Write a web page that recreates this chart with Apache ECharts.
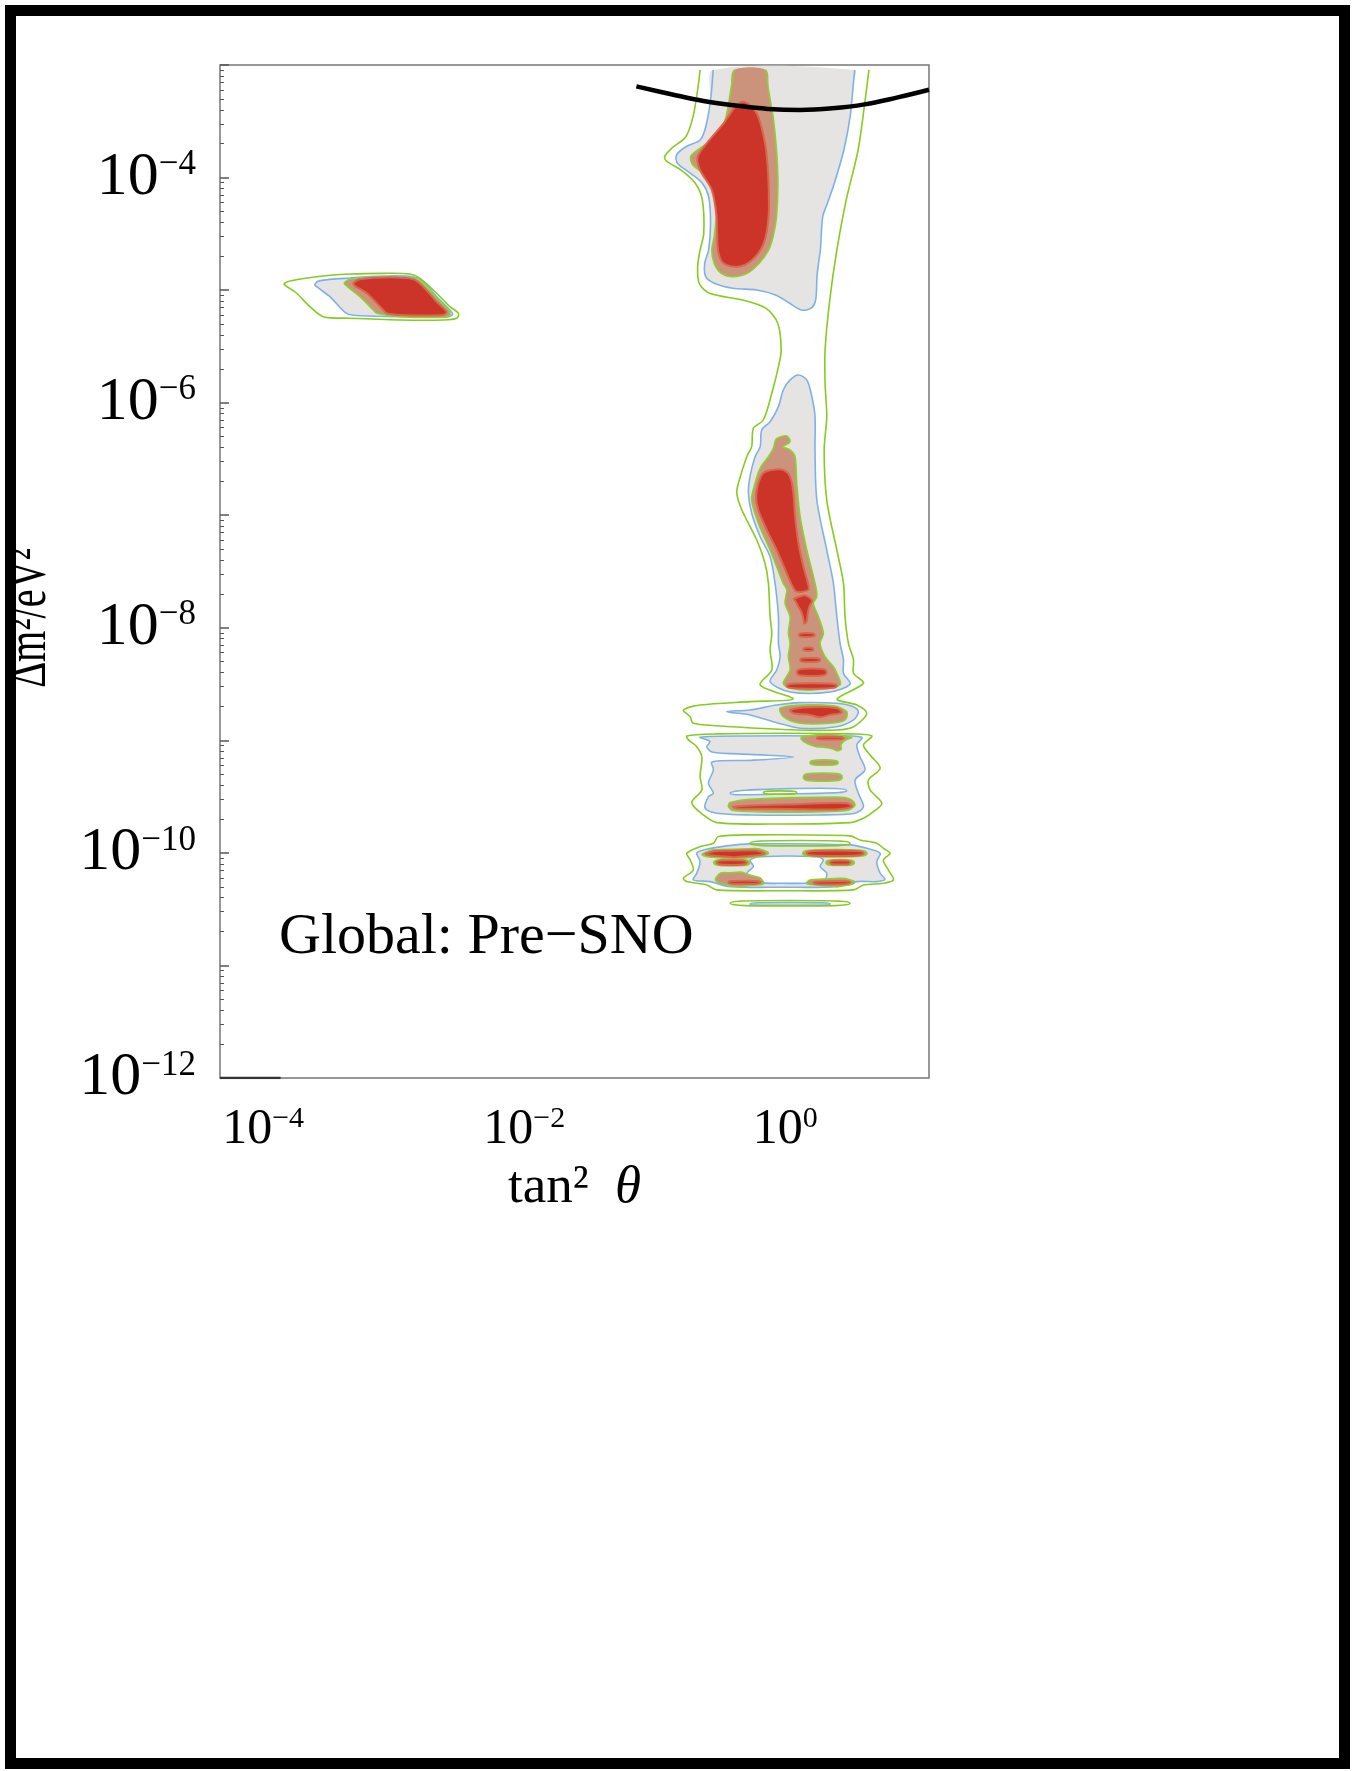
<!DOCTYPE html>
<html><head><meta charset="utf-8">
<script src="https://cdn.jsdelivr.net/npm/echarts@6/dist/echarts.min.js"></script>
<style>html,body{margin:0;padding:0;background:#fff}#chart{width:1355px;height:1771px}</style>
</head><body><div id="chart"></div>
<script>
// ---- axes (values are log10 of tan^2(theta) and log10 of dm^2/eV^2) ----
const xRange = [-4.33, 1.1];
const yRange = [-12, -3];
const xTickValues = [-4, -2, 0];
const xTickExponents = ['\u22124', '\u22122', '0'];
const yTickValues = [-12, -10, -8, -6, -4];
const yTickExponents = ['\u221212', '\u221210', '\u22128', '\u22126', '\u22124'];
const yDecades = [-12, -11, -10, -9, -8, -7, -6, -5, -4, -3];
const minorFactors = [2, 3, 4, 5, 6, 7, 8, 9];

// ---- contour regions, points as [log10 tan^2, log10 dm^2] ----
// light-gray regions bounded by the blue contour
const grayRegions = [
  [[-0.553,-3.044],[-0.573,-3.311],[-0.610,-3.548],[-0.653,-3.666],[-0.762,-3.726],[-0.834,-3.800],[-0.827,-3.873],[-0.726,-3.962],[-0.636,-4.051],[-0.588,-4.170],[-0.573,-4.406],[-0.588,-4.644],[-0.618,-4.762],[-0.610,-4.881],[-0.545,-4.939],[-0.401,-4.984],[-0.220,-4.999],[-0.075,-5.043],[0.033,-5.117],[0.123,-5.177],[0.195,-5.163],[0.232,-5.088],[0.242,-4.881],[0.257,-4.732],[0.268,-4.644],[0.286,-4.348],[0.322,-4.229],[0.375,-4.051],[0.448,-3.755],[0.496,-3.459],[0.521,-3.163],[0.531,-3.044]],
  [[-3.603,-4.946],[-3.564,-4.916],[-3.334,-4.892],[-3.079,-4.875],[-2.849,-4.881],[-2.773,-4.925],[-2.671,-5.058],[-2.569,-5.177],[-2.548,-5.215],[-2.582,-5.236],[-2.952,-5.236],[-3.309,-5.224],[-3.373,-5.197],[-3.488,-5.058],[-3.590,-4.970]],
  [[0.100,-5.754],[0.036,-5.798],[-0.016,-5.887],[-0.053,-6.035],[-0.117,-6.169],[-0.181,-6.243],[-0.193,-6.391],[-0.232,-6.480],[-0.271,-6.658],[-0.283,-6.805],[-0.258,-6.983],[-0.193,-7.191],[-0.117,-7.368],[-0.079,-7.605],[-0.053,-7.901],[-0.053,-8.138],[-0.040,-8.257],[-0.066,-8.375],[-0.117,-8.479],[0.036,-8.571],[0.343,-8.571],[0.496,-8.500],[0.445,-8.404],[0.445,-8.286],[0.419,-8.138],[0.394,-7.901],[0.368,-7.605],[0.317,-7.309],[0.241,-6.865],[0.227,-6.420],[0.227,-6.124],[0.203,-5.947],[0.164,-5.798]],
  [[-0.449,-8.745],[-0.271,-8.730],[-0.066,-8.686],[0.113,-8.665],[0.394,-8.671],[0.522,-8.701],[0.559,-8.745],[0.522,-8.819],[0.394,-8.879],[0.113,-8.893],[-0.066,-8.843],[-0.271,-8.775]],
  [[-0.653,-8.972],[-0.271,-8.961],[0.241,-8.961],[0.586,-8.972],[0.547,-9.041],[0.571,-9.145],[0.610,-9.263],[0.534,-9.352],[0.559,-9.470],[0.598,-9.589],[0.534,-9.648],[0.241,-9.663],[-0.271,-9.663],[-0.525,-9.648],[-0.615,-9.603],[-0.589,-9.500],[-0.551,-9.470],[-0.589,-9.381],[-0.551,-9.263],[-0.562,-9.192],[-0.271,-9.178],[0.061,-9.147],[-0.271,-9.125],[-0.562,-9.103],[-0.602,-9.056],[-0.577,-9.011]],
  [[-0.449,-9.938],[-0.271,-9.920],[0.496,-9.929],[0.623,-9.959],[0.726,-10.003],[0.700,-10.078],[0.726,-10.181],[0.763,-10.234],[0.700,-10.255],[0.547,-10.255],[0.394,-10.300],[-0.016,-10.305],[-0.423,-10.300],[-0.577,-10.255],[-0.705,-10.240],[-0.679,-10.181],[-0.653,-10.078],[-0.679,-10.003],[-0.628,-9.974]],
  [[-0.271,-10.453],[0.036,-10.441],[0.343,-10.453],[0.036,-10.465]]
];
// white holes inside gray regions (blue edge)
const holeRegions = [
  [[-0.423,-9.470],[0.036,-9.429],[0.470,-9.447],[0.036,-9.476]],
  [[-0.271,-10.063],[-0.193,-10.034],[0.241,-10.034],[0.291,-10.063],[0.266,-10.122],[0.317,-10.181],[0.291,-10.255],[-0.016,-10.270],[-0.271,-10.255],[-0.296,-10.181],[-0.245,-10.122]]
];
// tan regions bounded by the inner green contour
const tanRegions = [
  [[-0.393,-3.044],[-0.418,-3.222],[-0.454,-3.459],[-0.508,-3.607],[-0.599,-3.696],[-0.689,-3.770],[-0.726,-3.815],[-0.708,-3.888],[-0.599,-3.992],[-0.545,-4.111],[-0.527,-4.288],[-0.545,-4.525],[-0.563,-4.644],[-0.545,-4.762],[-0.490,-4.851],[-0.401,-4.881],[-0.292,-4.851],[-0.201,-4.762],[-0.129,-4.644],[-0.094,-4.525],[-0.068,-4.348],[-0.057,-4.051],[-0.068,-3.755],[-0.094,-3.459],[-0.129,-3.222],[-0.148,-3.044]],
  [[-3.379,-4.939],[-3.334,-4.904],[-3.079,-4.886],[-2.849,-4.895],[-2.785,-4.934],[-2.684,-5.058],[-2.582,-5.177],[-2.569,-5.221],[-2.606,-5.241],[-2.952,-5.236],[-3.129,-5.206],[-3.156,-5.177],[-3.258,-5.058],[-3.360,-4.963]],
  [[-0.066,-6.317],[0.011,-6.296],[0.036,-6.347],[-0.016,-6.391],[0.036,-6.420],[0.074,-6.480],[0.087,-6.716],[0.113,-7.013],[0.164,-7.309],[0.227,-7.605],[0.241,-7.724],[0.214,-7.783],[0.253,-7.901],[0.291,-8.049],[0.266,-8.138],[0.304,-8.257],[0.368,-8.346],[0.394,-8.404],[0.419,-8.508],[0.214,-8.553],[0.036,-8.538],[-0.016,-8.493],[0.036,-8.375],[0.023,-8.257],[0.036,-8.138],[0.023,-8.049],[0.036,-7.901],[-0.002,-7.783],[0.011,-7.664],[-0.016,-7.605],[-0.117,-7.309],[-0.207,-7.071],[-0.258,-6.865],[-0.232,-6.716],[-0.193,-6.583],[-0.130,-6.480],[-0.092,-6.405],[-0.079,-6.347]],
  [[-0.040,-8.715],[0.113,-8.686],[0.368,-8.694],[0.470,-8.745],[0.457,-8.819],[0.343,-8.848],[0.113,-8.848],[-0.016,-8.789]],
  [[0.138,-8.967],[0.496,-8.972],[0.432,-9.026],[0.419,-9.085],[0.343,-9.070],[0.164,-9.026]],
  [[0.189,-9.198],[0.297,-9.174],[0.404,-9.198],[0.297,-9.222]],
  [[0.138,-9.327],[0.286,-9.291],[0.435,-9.327],[0.286,-9.363]],
  [[-0.423,-9.553],[-0.271,-9.523],[0.394,-9.505],[0.496,-9.523],[0.534,-9.574],[0.470,-9.624],[-0.016,-9.639],[-0.398,-9.624],[-0.436,-9.589]],
  [[-0.628,-10.003],[-0.398,-9.968],[-0.142,-9.989],[-0.245,-10.039],[-0.551,-10.039]],
  [[-0.549,-10.086],[-0.411,-10.057],[-0.272,-10.086],[-0.411,-10.115]],
  [[-0.525,-10.211],[-0.398,-10.175],[-0.271,-10.196],[-0.169,-10.255],[-0.219,-10.285],[-0.475,-10.276]],
  [[0.132,-10.003],[0.381,-9.970],[0.626,-10.003],[0.381,-10.036]],
  [[0.310,-10.086],[0.419,-10.060],[0.528,-10.086],[0.419,-10.112]],
  [[0.164,-10.262],[0.343,-10.230],[0.522,-10.250],[0.488,-10.285],[0.310,-10.290]]
];
// red best-fit regions
const redRegions = [
  [[-0.327,-3.326],[-0.274,-3.355],[-0.220,-3.429],[-0.184,-3.548],[-0.148,-3.755],[-0.129,-4.051],[-0.129,-4.348],[-0.166,-4.584],[-0.255,-4.732],[-0.364,-4.792],[-0.473,-4.762],[-0.516,-4.644],[-0.527,-4.348],[-0.563,-4.111],[-0.653,-3.933],[-0.672,-3.815],[-0.581,-3.666],[-0.473,-3.518],[-0.382,-3.370]],
  [[-3.309,-4.939],[-3.258,-4.904],[-3.028,-4.886],[-2.849,-4.904],[-2.773,-4.970],[-2.671,-5.103],[-2.594,-5.192],[-2.620,-5.221],[-2.952,-5.221],[-3.053,-5.206],[-3.079,-5.177],[-3.206,-5.028],[-3.296,-4.963]],
  [[-0.169,-6.625],[-0.104,-6.598],[-0.016,-6.598],[0.036,-6.657],[0.061,-6.805],[0.074,-7.013],[0.100,-7.249],[0.138,-7.457],[0.176,-7.620],[0.176,-7.664],[0.087,-7.679],[0.050,-7.620],[0.011,-7.516],[-0.066,-7.309],[-0.142,-7.131],[-0.207,-6.954],[-0.224,-6.835],[-0.207,-6.716]],
  [[0.074,-7.738],[0.190,-7.738],[0.176,-7.842],[0.151,-7.960],[0.126,-7.871],[0.087,-7.783]],
  [[0.103,-8.064],[0.164,-8.046],[0.225,-8.064],[0.164,-8.082]],
  [[0.137,-8.191],[0.176,-8.176],[0.214,-8.191],[0.176,-8.206]],
  [[0.113,-8.286],[0.190,-8.268],[0.267,-8.286],[0.190,-8.304]],
  [[0.088,-8.395],[0.203,-8.362],[0.317,-8.395],[0.203,-8.428]],
  [[0.011,-8.517],[0.203,-8.493],[0.394,-8.517],[0.203,-8.541]],
  [[0.036,-8.730],[0.190,-8.706],[0.394,-8.715],[0.432,-8.754],[0.343,-8.774],[0.266,-8.795],[0.190,-8.774],[0.061,-8.759]],
  [[0.241,-8.981],[0.343,-8.969],[0.445,-8.981],[0.343,-8.993]],
  [[-0.398,-9.589],[0.036,-9.569],[0.470,-9.559],[0.509,-9.589],[0.381,-9.614],[0.036,-9.609],[-0.378,-9.605]],
  [[-0.602,-10.003],[-0.398,-9.980],[-0.169,-9.998],[-0.271,-10.027],[-0.525,-10.027]],
  [[-0.525,-10.086],[-0.411,-10.065],[-0.296,-10.086],[-0.411,-10.107]],
  [[-0.436,-10.262],[-0.315,-10.247],[-0.193,-10.262],[-0.315,-10.277]],
  [[0.164,-10.003],[0.381,-9.979],[0.598,-10.003],[0.381,-10.027]],
  [[0.343,-10.086],[0.419,-10.068],[0.496,-10.086],[0.419,-10.104]],
  [[0.214,-10.266],[0.355,-10.252],[0.496,-10.262],[0.355,-10.280]]
];
// outer green contour (line only)
const outerGreenLines = [
  [[-0.653,-3.044],[-0.672,-3.222],[-0.707,-3.459],[-0.762,-3.637],[-0.871,-3.740],[-0.925,-3.815],[-0.906,-3.859],[-0.798,-3.933],[-0.690,-4.051],[-0.636,-4.199],[-0.625,-4.495],[-0.653,-4.644],[-0.672,-4.792],[-0.660,-4.939],[-0.581,-5.028],[-0.327,-5.088],[-0.148,-5.162],[-0.058,-5.295],[-0.032,-5.532],[-0.053,-5.680],[-0.104,-5.917],[-0.169,-6.154],[-0.245,-6.228],[-0.258,-6.391],[-0.296,-6.480],[-0.360,-6.717],[-0.372,-6.805],[-0.333,-6.954],[-0.219,-7.220],[-0.156,-7.427],[-0.130,-7.605],[-0.117,-7.902],[-0.104,-8.049],[-0.117,-8.197],[-0.104,-8.375],[-0.193,-8.508],[0.059,-8.632],[-0.271,-8.656],[-0.653,-8.686],[-0.781,-8.731],[-0.729,-8.790],[-0.705,-8.849],[-0.398,-8.879],[0.087,-8.908],[0.394,-8.908],[0.522,-8.879],[0.623,-8.760],[0.547,-8.686],[0.396,-8.633],[0.598,-8.493],[0.522,-8.404],[0.522,-8.286],[0.483,-8.138],[0.457,-7.902],[0.445,-7.605],[0.394,-7.309],[0.317,-6.865],[0.297,-6.420],[0.317,-6.124],[0.304,-5.828],[0.304,-5.532],[0.340,-5.088],[0.394,-4.644],[0.466,-4.199],[0.557,-3.755],[0.611,-3.311],[0.640,-3.044]],
  [[-3.838,-4.939],[-3.590,-4.881],[-3.334,-4.857],[-3.079,-4.851],[-2.875,-4.857],[-2.798,-4.895],[-2.671,-5.028],[-2.569,-5.147],[-2.504,-5.206],[-2.517,-5.250],[-2.620,-5.265],[-2.952,-5.265],[-3.334,-5.250],[-3.539,-5.236],[-3.641,-5.147],[-3.743,-5.028]],
  [[-0.755,-8.961],[-0.525,-8.943],[-0.016,-8.937],[0.496,-8.943],[0.662,-8.961],[0.598,-9.041],[0.649,-9.130],[0.726,-9.248],[0.636,-9.352],[0.649,-9.441],[0.739,-9.559],[0.675,-9.633],[0.598,-9.692],[0.496,-9.731],[-0.016,-9.743],[-0.525,-9.731],[-0.628,-9.663],[-0.717,-9.553],[-0.640,-9.441],[-0.653,-9.322],[-0.640,-9.145],[-0.679,-9.056],[-0.743,-8.996]],
  [[-0.513,-9.855],[-0.271,-9.840],[0.496,-9.849],[0.572,-9.885],[0.700,-9.914],[0.751,-9.959],[0.802,-10.003],[0.751,-10.063],[0.789,-10.152],[0.828,-10.240],[0.751,-10.270],[0.598,-10.285],[0.522,-10.329],[-0.016,-10.336],[-0.525,-10.329],[-0.602,-10.285],[-0.755,-10.255],[-0.781,-10.225],[-0.705,-10.152],[-0.729,-10.063],[-0.755,-10.003],[-0.653,-9.944],[-0.551,-9.914]],
  [[-0.423,-10.447],[0.036,-10.423],[0.496,-10.447],[0.036,-10.471]],
  [[-0.271,-9.914],[0.113,-9.890],[0.496,-9.914],[0.113,-9.938]],
  [[-0.168,-9.464],[-0.040,-9.449],[0.087,-9.464],[-0.040,-9.479]]
];
// thick black iso-line at the top
const isoCurve = [[-1.141,-3.19],[-0.874,-3.26],[-0.627,-3.32],[-0.381,-3.36],[-0.134,-3.39],[0.113,-3.40],[0.360,-3.385],[0.606,-3.35],[0.853,-3.29],[1.1,-3.22]];
// short dark segment on the bottom frame
const bottomSegment = [[-4.33,-12],[-3.866,-12]];

const SERIF = '"Liberation Serif", "Times New Roman", serif';

function minorTicks() {
  const out = [];
  for (let n = yRange[0]; n < yRange[1]; n++) minorFactors.forEach(k => out.push(n + Math.log10(k)));
  return out;
}

function regionSeries(regions, fill, stroke, lw) {
  return {
    type: 'custom', coordinateSystem: 'cartesian2d', silent: true, animation: false,
    data: regions.map((r, i) => [r[0][0], r[0][1], i]),
    encode: { x: 0, y: 1 },
    renderItem(params, api) {
      const r = regions[params.dataIndex];
      const pts = r.map(p => api.coord(p));
      const sm = r.length <= 6 ? 0.8 : 0.3;
      const open = r[0][1] > -3.06 && r[r.length - 1][1] > -3.06;
      const children = [];
      if (fill) children.push({ type: 'polygon', shape: { points: pts, smooth: sm }, style: { fill: fill, stroke: 'none' } });
      if (stroke) {
        children.push({ type: open ? 'polyline' : 'polygon', shape: { points: pts, smooth: sm },
          style: { fill: 'none', stroke: stroke, lineWidth: lw, lineJoin: 'round' } });
      }
      return { type: 'group', children };
    }
  };
}

const chart = echarts.init(document.getElementById('chart'), null, { renderer: 'canvas' });
chart.setOption({
  backgroundColor: '#fff',
  animation: false,
  grid: { left: 220, top: 65, width: 709, height: 1013, show: true, borderColor: '#777', borderWidth: 1.5, backgroundColor: 'transparent' },
  xAxis: {
    type: 'value', min: xRange[0], max: xRange[1],
    axisLine: { show: false, onZero: false }, axisTick: { show: false }, splitLine: { show: false },
    axisLabel: {
      customValues: xTickValues, margin: 26, color: '#000',
      formatter: v => '{b|10}{e|' + xTickExponents[xTickValues.indexOf(v)] + '}',
      rich: {
        b: { fontFamily: SERIF, fontSize: 50, lineHeight: 52, color: '#000' },
        e: { fontFamily: SERIF, fontSize: 30, verticalAlign: 'top', lineHeight: 52, color: '#000' }
      }
    },
    name: '{n|tan\u00b2  }{t|\u03b8}', nameLocation: 'middle', nameGap: 84,
    nameTextStyle: { rich: {
      n: { fontFamily: SERIF, fontSize: 53, color: '#000' },
      t: { fontFamily: SERIF, fontSize: 53, fontStyle: 'italic', color: '#000' }
    } }
  },
  yAxis: [{
    type: 'value', min: yRange[0], max: yRange[1], position: 'left',
    axisLine: { show: false, onZero: false }, splitLine: { show: false },
    axisTick: { show: true, inside: true, length: 9, customValues: yDecades, lineStyle: { color: '#555', width: 1.5 } },
    axisLabel: {
      customValues: yTickValues, margin: 24, color: '#000',
      formatter: v => '{b|10}{e|' + yTickExponents[yTickValues.indexOf(v)] + '}',
      rich: {
        b: { fontFamily: SERIF, fontSize: 62, lineHeight: 60, color: '#000' },
        e: { fontFamily: SERIF, fontSize: 35, verticalAlign: 'top', lineHeight: 60, color: '#000' }
      }
    }
  }, {
    type: 'value', min: yRange[0], max: yRange[1], position: 'left', offset: 0,
    axisLine: { show: false, onZero: false }, splitLine: { show: false }, axisLabel: { show: false },
    axisTick: { show: true, inside: true, length: 4, customValues: minorTicks(), lineStyle: { color: '#555', width: 1 } }
  }],
  series: [
    regionSeries(grayRegions, '#e5e4e2', '#7eb2e6', 1.6),
    regionSeries(holeRegions, '#ffffff', '#7eb2e6', 1.6),
    regionSeries(tanRegions, '#cc937c', '#8dd12e', 1.6),
    regionSeries(redRegions, '#cc3329', '#d9674c', 2),
    regionSeries(outerGreenLines, null, '#86cc1e', 1.6),
    { type: 'line', data: isoCurve, smooth: 0.4, symbol: 'none', silent: true, animation: false,
      lineStyle: { color: '#000', width: 4.5 }, z: 5 },
    { type: 'line', data: bottomSegment, symbol: 'none', silent: true, animation: false,
      lineStyle: { color: '#333', width: 2.5 }, z: 5 }
  ],
  graphic: [
    { type: 'text', x: 279, y: 938, z: 50,
      style: { text: 'Global: Pre\u2212SNO', font: '58px ' + SERIF, fill: '#000', verticalAlign: 'middle' } },
    { type: 'text', x: 30, y: 618, rotation: Math.PI / 2, scaleX: 0.72, z: 50,
      style: { text: '\u0394m\u00b2/eV\u00b2', font: '56px ' + SERIF, fill: '#000', align: 'center', verticalAlign: 'middle' } },
    { type: 'rect', z: 100, shape: { x: 10.5, y: 10.5, width: 1334, height: 1753 },
      style: { fill: 'none', stroke: '#000', lineWidth: 11 } }
  ]
});
</script>
</body></html>
